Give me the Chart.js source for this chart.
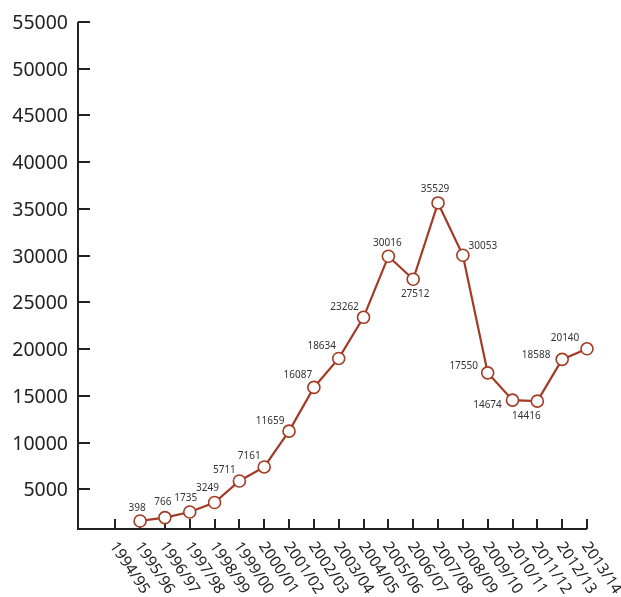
<!DOCTYPE html>
<html>
<head>
<meta charset="utf-8">
<script src="https://cdn.jsdelivr.net/npm/chart.js@4/dist/chart.umd.min.js"></script>
<style>
  html, body { margin: 0; padding: 0; background: #fff; }
  #wrap { width: 621px; height: 597px; }
</style>
</head>
<body>
<div id="wrap"><canvas id="chart"></canvas></div>
<script>
// categories (seasons)
const seasons = ['1994/95','1995/96','1996/97','1997/98','1998/99','1999/00','2000/01','2001/02','2002/03','2003/04',
                 '2004/05','2005/06','2006/07','2007/08','2008/09','2009/10','2010/11','2011/12','2012/13','2013/14'];
// where the points sit on the y axis
const plotted = [null, 1610, 1970, 2570, 3580, 5890, 7390, 11220, 15900, 19000,
                 23400, 29930, 27470, 35640, 30040, 17460, 14540, 14430, 18900, 20030];
// the numbers printed next to the points
const pointLabels = [null, '398', '766', '1735', '3249', '5711', '7161', '11659', '16087', '18634',
                     '23262', '30016', '27512', '35529', '30053', '17550', '14674', '14416', '18588', '20140'];
// y axis ticks
const yTicks = [5000, 10000, 15000, 20000, 25000, 30000, 35000, 40000, 45000, 50000, 55000];

const RED = '#a33a24';
const INK = '#222';

// label offset from point centre (text centre)
const labelOffsets = [null, [-3,-13], [-2,-15], [-4,-14], [-7,-14], [-15,-11], [-15,-11], [-19,-10], [-16,-12], [-17,-12],
                      [-19,-10], [-1,-13], [2,15], [-3,-14], [20,-9], [-24,-7], [-25,5], [-11,15], [-26,-4], [-22,-11]];

const axesPlugin = {
    id: 'axesPlugin',
    beforeDatasetsDraw(chart) {
        const ctx = chart.ctx;
        const xs = chart.scales.x, ys = chart.scales.y;
        const left = chart.chartArea.left, bottom = chart.chartArea.bottom;
        const top = ys.getPixelForValue(55000);
        const right = xs.getPixelForValue(seasons.length - 1);
        ctx.save();
        ctx.strokeStyle = INK;
        ctx.lineWidth = 2;
        ctx.beginPath();
        ctx.moveTo(left, top);
        ctx.lineTo(left, bottom);
        ctx.lineTo(right, bottom);
        ctx.stroke();

        // y ticks + labels
        ctx.fillStyle = INK;
        ctx.font = '19.5px "Noto Sans"';
        ctx.textAlign = 'right';
        ctx.textBaseline = 'middle';
        yTicks.forEach(v => {
            const y = Math.round(ys.getPixelForValue(v));
            ctx.beginPath();
            ctx.moveTo(left, y);
            ctx.lineTo(left + 12, y);
            ctx.stroke();
            ctx.fillText(String(v), left - 10, y + 1);
        });

        // x ticks + rotated labels
        ctx.font = '15.5px "Noto Sans"';
        ctx.textAlign = 'left';
        seasons.forEach((s, i) => {
            const x = Math.round(xs.getPixelForValue(i));
            ctx.beginPath();
            ctx.moveTo(x, bottom);
            ctx.lineTo(x, bottom - 10);
            ctx.stroke();
            ctx.save();
            ctx.translate(x - 2, bottom + 14.5);
            ctx.rotate(56 * Math.PI / 180);
            ctx.fillText(s, 0, 0);
            ctx.restore();
        });
        ctx.restore();
    },
    afterDatasetsDraw(chart) {
        const ctx = chart.ctx;
        const meta = chart.getDatasetMeta(0);
        ctx.save();
        ctx.fillStyle = '#333';
        ctx.font = '10px "Noto Sans"';
        ctx.textAlign = 'center';
        ctx.textBaseline = 'middle';
        meta.data.forEach((pt, i) => {
            if (!pointLabels[i]) return;
            const off = labelOffsets[i];
            ctx.fillText(pointLabels[i], pt.x + off[0], pt.y + off[1]);
        });
        ctx.restore();
    }
};

new Chart(document.getElementById('chart'), {
    type: 'line',
    data: {
        datasets: [{
            data: plotted.map((v, i) => ({ x: i, y: v })),
            borderColor: RED,
            borderWidth: 2.2,
            pointRadius: 6,
            pointBorderWidth: 1.6,
            pointBackgroundColor: '#fff',
            pointBorderColor: RED,
            tension: 0,
            spanGaps: false,
            clip: false
        }]
    },
    options: {
        responsive: true,
        maintainAspectRatio: false,
        animation: false,
        layout: { padding: { left: 78, right: 34, top: 22, bottom: 68 } },
        plugins: { legend: { display: false }, tooltip: { enabled: false } },
        scales: {
            x: { type: 'linear', min: -1.5, max: seasons.length - 1, display: false },
            y: { type: 'linear', min: 750, max: 55000, display: false }
        }
    },
    plugins: [axesPlugin]
});
</script>
</body>
</html>
